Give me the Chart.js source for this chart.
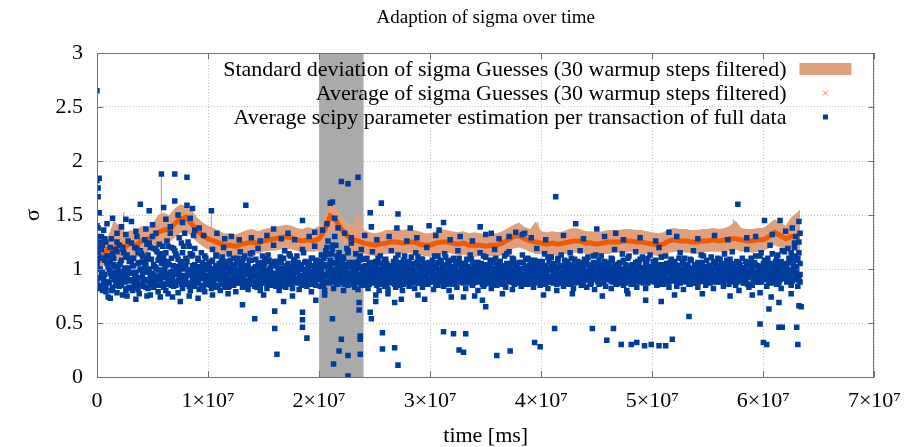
<!DOCTYPE html>
<html><head><meta charset="utf-8">
<script src="https://cdn.jsdelivr.net/npm/chart.js@4.4.0/dist/chart.umd.min.js"></script>
<style>html,body{margin:0;padding:0;background:#fff}</style>
</head><body>
<canvas id="c" width="912" height="447"></canvas>
<script>
// ---- data (times in units of 1e5 ms) ----
const TIME_UNIT_MS = 1e5;
const chartTitle = 'Adaption of sigma over time';
const xTitle = 'time [ms]';
const yTitle = 'σ';
const legendLabels = [
  'Standard deviation of sigma Guesses (30 warmup steps filtered)',
  'Average of sigma Guesses (30 warmup steps filtered)',
  'Average scipy parameter estimation per transaction of full data'
];
const xTickValues = [0, 1e7, 2e7, 3e7, 4e7, 5e7, 6e7, 7e7];
const yTickValues = [0, 0.5, 1, 1.5, 2, 2.5, 3];
const shadeRange = [2.0e7, 2.4e7];

const gridT = [0,5,10,15,20,25,30,35,40,45,50,55,60,65,70,75,80,85,90,95,100,105,110,115,120,125,130,135,140,145,150,155,160,165,170,175,180,185,190,195,200,205,210,215,220,225,230,235,240,245,250,255,260,265,270,275,280,285,290,295,300,305,310,315,320,325,330,335,340,345,350,355,360,365,370,375,380,385,390,395,400,405,410,415,420,425,430,435,440,445,450,455,460,465,470,475,480,485,490,495,500,505,510,515,520,525,530,535,540,545,550,555,560,565,570,575,580,585,590,595,600,605,610,615,620,625,630,633];
const avgSigma = [1.05,1.12,1.19,1.18,1.23,1.20,1.24,1.22,1.26,1.27,1.30,1.34,1.36,1.37,1.42,1.46,1.48,1.42,1.36,1.31,1.28,1.26,1.24,1.22,1.22,1.21,1.23,1.24,1.25,1.24,1.26,1.27,1.28,1.29,1.30,1.29,1.27,1.26,1.27,1.26,1.28,1.36,1.49,1.45,1.37,1.31,1.27,1.26,1.24,1.23,1.22,1.23,1.24,1.25,1.25,1.24,1.25,1.25,1.23,1.22,1.22,1.24,1.25,1.25,1.24,1.23,1.24,1.22,1.22,1.22,1.21,1.22,1.22,1.24,1.27,1.30,1.31,1.28,1.26,1.25,1.24,1.23,1.24,1.23,1.24,1.25,1.26,1.26,1.24,1.24,1.23,1.24,1.25,1.25,1.25,1.26,1.26,1.25,1.25,1.24,1.23,1.22,1.23,1.26,1.27,1.26,1.26,1.25,1.25,1.26,1.26,1.27,1.26,1.27,1.28,1.28,1.27,1.26,1.26,1.27,1.27,1.30,1.34,1.31,1.28,1.30,1.30,1.29];
const stdUpper = [1.12,1.30,1.30,1.45,1.40,1.33,1.36,1.35,1.40,1.38,1.42,1.50,1.52,1.50,1.56,1.60,1.58,1.55,1.48,1.43,1.40,1.38,1.35,1.33,1.33,1.32,1.34,1.36,1.37,1.35,1.37,1.38,1.39,1.40,1.41,1.40,1.38,1.37,1.39,1.37,1.40,1.48,1.62,1.58,1.50,1.43,1.40,1.52,1.36,1.34,1.33,1.34,1.36,1.36,1.37,1.36,1.37,1.36,1.35,1.33,1.33,1.35,1.37,1.36,1.35,1.34,1.35,1.33,1.34,1.33,1.32,1.33,1.33,1.35,1.38,1.41,1.43,1.39,1.37,1.44,1.35,1.34,1.35,1.34,1.35,1.37,1.38,1.37,1.35,1.35,1.34,1.35,1.36,1.36,1.36,1.37,1.37,1.36,1.36,1.35,1.34,1.33,1.34,1.37,1.38,1.37,1.37,1.36,1.36,1.37,1.37,1.38,1.37,1.38,1.40,1.45,1.38,1.37,1.37,1.38,1.38,1.42,1.46,1.43,1.40,1.48,1.52,1.55];
const stdLower = [1.00,1.02,1.08,1.05,1.10,1.08,1.12,1.10,1.14,1.15,1.18,1.20,1.22,1.25,1.29,1.33,1.35,1.30,1.25,1.21,1.18,1.16,1.14,1.13,1.12,1.12,1.13,1.14,1.15,1.14,1.16,1.17,1.17,1.18,1.19,1.18,1.17,1.16,1.16,1.16,1.17,1.24,1.36,1.33,1.26,1.20,1.17,1.16,1.14,1.13,1.12,1.13,1.14,1.15,1.14,1.14,1.15,1.14,1.13,1.12,1.11,1.13,1.14,1.15,1.14,1.13,1.13,1.12,1.11,1.12,1.11,1.12,1.11,1.13,1.16,1.19,1.20,1.18,1.16,1.14,1.14,1.13,1.13,1.13,1.14,1.14,1.15,1.16,1.14,1.13,1.13,1.14,1.14,1.15,1.15,1.15,1.16,1.15,1.14,1.14,1.13,1.12,1.12,1.15,1.16,1.16,1.15,1.15,1.14,1.15,1.16,1.16,1.16,1.16,1.17,1.18,1.16,1.16,1.15,1.16,1.17,1.19,1.22,1.20,1.17,1.18,1.17,1.16];
const spikeT    = [24, 58, 103, 238, 397, 573];
const spikeBase = [1.30,1.40,1.35,1.35,1.33,1.36];
const spikeTop  = [1.52,1.88,1.55,1.54,1.44,1.46];

// one time stamp per transaction step; three estimate layers share these times
const blueT = [
0,1,2,3,4,5,6,7,8,9,
10,11,12,13,14,15,16,17,18,19,
20,21,22,23,24,25,26,27,28,29,
30,31,32,33,34,35,36,37,38,39,
40,41,42,43,44,45,46,47,48,49,
50,51,52,53,54,55,56,57,58,59,
60,61,62,63,64,65,66,67,68,69,
70,71,72,73,74,75,76,77,78,79,
80,81,82,83,84,85,86,87,88,89,
90,91,92,93,94,95,96,97,98,99,
100,101,102,103,104,105,106,107,108,109,
110,111,112,113,114,115,116,117,118,119,
120,121,122,123,124,125,126,127,128,129,
130,131,132,133,134,135,136,137,138,139,
140,141,142,143,144,145,146,147,148,149,
150,151,152,153,154,155,156,157,158,159,
160,161,162,163,164,165,166,167,168,169,
170,171,172,173,174,175,176,177,178,179,
180,181,182,183,184,185,186,187,188,189,
190,191,192,193,194,195,196,197,198,199,
200,201,202,203,204,205,206,207,208,209,
210,211,212,213,214,215,216,217,218,219,
220,221,222,223,224,225,226,227,228,229,
230,231,232,233,234,235,236,237,238,239,
240,241,242,243,244,245,246,247,248,249,
250,251,252,253,254,255,256,257,258,259,
260,261,262,263,264,265,266,267,268,269,
270,271,272,273,274,275,276,277,278,279,
280,281,282,283,284,285,286,287,288,289,
290,291,292,293,294,295,296,297,298,299,
300,301,302,303,304,305,306,307,308,309,
310,311,312,313,314,315,316,317,318,319,
320,321,322,323,324,325,326,327,328,329,
330,331,332,333,334,335,336,337,338,339,
340,341,342,343,344,345,346,347,348,349,
350,351,352,353,354,355,356,357,358,359,
360,361,362,363,364,365,366,367,368,369,
370,371,372,373,374,375,376,377,378,379,
380,381,382,383,384,385,386,387,388,389,
390,391,392,393,394,395,396,397,398,399,
400,401,402,403,404,405,406,407,408,409,
410,411,412,413,414,415,416,417,418,419,
420,421,422,423,424,425,426,427,428,429,
430,431,432,433,434,435,436,437,438,439,
440,441,442,443,444,445,446,447,448,449,
450,451,452,453,454,455,456,457,458,459,
460,461,462,463,464,465,466,467,468,469,
470,471,472,473,474,475,476,477,478,479,
480,481,482,483,484,485,486,487,488,489,
490,491,492,493,494,495,496,497,498,499,
500,501,502,503,504,505,506,507,508,509,
510,511,512,513,514,515,516,517,518,519,
520,521,522,523,524,525,526,527,528,529,
530,531,532,533,534,535,536,537,538,539,
540,541,542,543,544,545,546,547,548,549,
550,551,552,553,554,555,556,557,558,559,
560,561,562,563,564,565,566,567,568,569,
570,571,572,573,574,575,576,577,578,579,
580,581,582,583,584,585,586,587,588,589,
590,591,592,593,594,595,596,597,598,599,
600,601,602,603,604,605,606,607,608,609,
610,611,612,613,614,615,616,617,618,619,
620,621,622,623,624,625,626,627,628,629,
630,631,632,633
];
const blueY = [
1.05,.85,1.2,.92,1.3,.8,1.1,.95,1.25,.88,
.74,1.12,.96,1.28,.83,1.04,.9,1.18,.78,1.0,
1.22,.87,1.08,.76,1.15,.93,1.32,.82,1.01,.89,
.97,1.24,.8,1.1,.91,1.35,.86,1.05,.77,1.17,
.92,1.07,.84,1.27,.99,.75,1.13,.88,1.2,.95,
1.3,.83,1.02,.9,1.16,.79,1.23,.94,1.09,.86,
1.11,.96,.8,1.26,.89,1.04,1.33,.85,.98,1.19,
.87,1.14,1.0,.78,1.29,.93,1.06,.82,1.21,.91,
1.03,.86,1.25,.95,.8,1.12,.9,1.31,.84,1.0,
.92,1.08,.81,.97,1.15,.85,1.02,.79,1.1,.94,
.88,1.05,.96,.82,1.18,.9,1.0,.84,1.12,.93,
.99,.8,1.07,.91,1.2,.86,.95,1.03,.83,1.14,
.9,1.01,.85,1.1,.94,.79,1.06,.97,.87,1.16,
1.04,.83,.96,1.12,.89,1.0,.81,1.08,.92,.86,
1.15,.93,.84,1.02,.88,1.19,.95,.8,1.06,.91,
.87,1.09,.97,.82,1.13,.9,1.01,.85,.94,1.22,
.96,.84,1.07,.92,.8,1.11,.88,1.0,.93,1.17,
.83,1.03,.95,1.14,.87,.98,.82,1.09,.9,1.05,
1.12,.89,.81,1.0,.94,1.18,.86,.97,1.07,.84,
.93,1.06,.88,.79,1.1,.96,1.21,.85,1.02,.91,
.98,.84,1.13,.9,1.04,.8,1.17,.94,1.26,.87,
1.08,.95,1.22,.82,1.3,.92,1.0,.86,1.15,.97,
.89,1.11,.8,1.03,.93,1.19,.85,1.06,.96,1.24,
.9,1.02,.83,1.14,.95,.81,1.08,.88,1.18,.97,
1.0,.86,.94,1.1,.82,1.05,.91,.98,1.16,.87,
.93,1.07,.85,.99,.8,1.12,.9,1.03,.95,.84,
1.09,.92,.81,1.01,.96,1.17,.87,.94,1.05,.83,
.9,1.13,.97,.85,1.04,.8,1.08,.93,1.0,.88,
1.06,.84,.95,1.11,.89,.98,.82,1.15,.92,1.02,
.87,.99,1.09,.83,.94,1.05,.9,1.2,.86,.97,
1.01,.88,.96,.81,1.12,.93,1.04,.85,.99,1.08,
.91,1.03,.84,1.14,.95,.89,1.07,.8,.98,1.0,
.86,1.1,.94,1.02,.83,1.17,.9,.96,1.05,.88,
1.04,.92,.82,1.09,.97,.87,1.13,.93,.85,1.01,
.95,1.06,.89,.8,1.0,1.15,.91,1.03,.84,.98,
1.11,.87,.96,1.04,.93,.82,1.08,.9,1.18,.94,
.85,.99,1.07,.91,1.02,.86,.97,1.12,.83,1.05,
.93,1.16,.88,1.0,.81,1.09,.95,.9,1.03,.87,
1.06,.94,.84,1.13,.92,1.01,.86,.98,1.1,.89,
.97,1.04,.91,.83,1.08,.95,1.19,.88,1.0,.85,
.9,1.02,.96,1.14,.86,.99,.82,1.07,.93,1.11,
1.0,.87,1.05,.92,.8,1.1,.95,1.03,.89,.97,
.84,1.08,.93,1.01,.96,.86,1.15,.9,1.04,.82,
1.09,.95,.88,1.02,.91,1.17,.85,.98,1.06,.93,
.96,.83,1.11,.9,1.0,.87,1.04,.94,.81,1.13,
.92,1.05,.86,.99,1.12,.89,.95,1.07,.84,1.01,
1.03,.9,.97,.82,1.09,.94,1.18,.87,1.0,.91,
.88,1.06,.93,1.14,.85,.98,1.02,.8,1.1,.95,
.99,.86,1.04,.91,.96,1.16,.83,1.07,.9,1.01,
.94,1.11,.87,1.0,.82,1.05,.92,.97,1.13,.89,
1.02,.9,.95,1.08,.85,.99,1.2,.88,1.04,.93,
.86,1.0,1.12,.91,.97,.83,1.06,.94,1.01,.89,
1.07,.93,.84,1.03,.96,1.15,.88,.99,.81,1.1,
.95,1.04,.9,.86,1.09,.92,1.0,1.17,.87,.98,
.91,.83,1.05,.97,1.13,.89,.94,1.02,.85,1.08,
1.0,.92,.87,1.11,.95,.82,1.06,.9,1.03,.96,
.88,1.09,.94,1.0,.84,1.14,.91,.97,1.05,.86,
1.02,.89,1.16,.93,.99,.85,1.07,.92,.8,1.04,
.96,1.1,.87,1.01,.9,1.18,.95,.83,1.06,.98,
.85,1.03,.93,1.12,.88,.97,1.0,.9,1.15,.94,
1.05,.92,.99,.84,1.1,.95,1.22,.87,1.01,.9,
.93,1.07,.86,1.13,.97,1.02,.82,1.17,.91,1.04,
1.0,.88,1.19,.94,1.06,.85,1.11,.96,1.24,.9,
1.08,.84,1.15,.95
];
const blueY2 = [
.9,1.15,.82,1.0,.95,1.22,.86,1.08,.79,1.12,
1.02,.88,1.2,.93,.81,1.1,.97,.85,1.25,.91,
.84,1.06,.94,1.18,.89,1.01,.8,1.13,.96,1.07,
1.1,.9,1.03,.83,1.2,.97,.88,1.15,.92,1.0,
.86,1.12,.98,.9,1.05,1.23,.82,1.0,.94,1.09,
.96,1.04,.87,1.18,.92,1.08,.85,1.14,.99,1.21,
.83,1.0,1.15,.93,1.07,.88,.97,1.2,.9,1.03,
1.17,.85,.96,1.09,.91,1.02,1.24,.87,1.0,.94,
.9,1.07,.98,.84,1.14,.95,1.03,.88,1.19,.92,
.95,.87,1.02,.91,.84,1.06,.93,.99,.86,1.04,
.92,1.0,.85,.97,1.08,.89,.94,1.03,.83,.96,
1.05,.9,.98,.86,.93,1.01,.88,1.07,.95,.84,
.97,.85,1.04,.92,.99,.87,1.09,.91,.96,1.02,
.89,1.06,.93,.84,1.0,.95,1.03,.88,.98,1.08,
.94,.86,1.01,.96,.83,1.05,.9,1.0,.87,.97,
1.02,.92,.88,1.07,.95,.85,.99,1.04,.91,.86,
.9,1.03,.95,.87,1.06,.93,.98,.84,1.01,.94,
.96,.88,1.05,.92,.99,.86,1.02,.94,1.08,.9,
.87,.98,.93,1.04,.85,1.0,.91,1.06,.95,.89,
1.01,.94,.86,.97,1.03,.9,.88,1.07,.93,.99,
.92,1.05,.97,.86,1.1,.94,1.02,.88,1.14,.96,
1.0,.89,1.18,.95,1.06,.87,1.12,.93,1.03,.9,
.95,1.08,.87,.99,1.04,.91,1.15,.96,.88,1.02,
.93,.86,1.0,.97,1.06,.89,.94,1.01,.85,1.09,
.96,.9,1.03,.87,.98,.93,1.05,.88,1.0,.94,
.89,1.01,.95,.92,1.06,.86,.97,.9,1.04,.98,
.93,.86,1.0,.95,.89,1.03,.97,1.07,.91,.96,
1.02,.94,.88,.99,.92,1.05,.86,.95,1.01,.9,
.95,1.0,.91,.87,1.04,.93,.98,.89,1.06,.94,
.9,.96,1.02,.94,.86,.99,1.05,.92,.97,.88,
.97,1.03,.89,.95,1.0,.86,.93,1.06,.91,.99,
.88,.95,1.01,.92,.97,1.04,.87,.94,1.02,.9,
1.0,.92,.86,.98,1.05,.91,.96,.89,1.03,.95,
.93,.99,1.04,.88,.94,1.0,.9,.97,1.06,.87,
.91,.96,.99,1.03,.88,.93,1.05,.86,.95,1.01,
.97,.9,1.02,.94,.87,1.0,.95,1.06,.89,.92,
.94,1.04,.88,.96,.91,.99,1.02,.86,.97,.93,
1.01,.89,.95,1.05,.92,.87,.98,1.03,.9,.96,
.88,1.0,.94,.9,1.06,.95,.91,1.02,.86,.99,
.93,.87,1.01,.96,.9,1.04,.92,.97,1.07,.94,
.99,.91,.86,1.03,.95,.9,1.0,.93,.88,1.05,
.92,.97,1.04,.88,.94,1.01,.87,.96,1.02,.9,
1.03,.9,.96,.93,1.07,.89,.98,.86,.95,1.0,
.87,.94,1.02,.97,.89,.93,1.05,.91,1.0,.95,
.91,1.04,.92,.98,.86,1.01,.94,1.06,.9,.97,
1.0,.88,.95,1.03,.91,.96,.87,.99,1.04,.93,
.95,.92,1.06,.89,.97,1.01,.9,.94,.86,1.02,
.98,.87,.93,1.0,.96,.9,1.04,.92,.97,.88,
.92,1.03,.96,.86,1.01,.94,.99,.89,1.05,.95,
.89,.95,1.0,.93,1.06,.9,.87,1.02,.96,.91,
.97,1.05,.88,.94,.99,.92,1.03,.95,.86,1.0,
.93,.9,.97,1.04,.88,1.01,.95,.91,.98,1.06,
1.0,.96,.89,.93,1.02,.87,.97,1.05,.92,.94,
.9,.98,1.03,.95,.86,.99,.93,.91,1.04,.96,
.95,1.01,.88,.92,.97,1.06,.9,.99,.94,.87,
.92,.97,1.03,.89,1.0,.94,.91,1.05,.88,.98,
1.01,.9,.95,.98,.87,.93,1.04,.96,.91,1.0,
.94,1.05,.89,.96,1.02,.91,.97,.88,.99,.93,
.9,.96,1.01,.87,.94,1.03,.92,.98,1.06,.95,
.97,.89,.93,1.04,.96,.9,1.0,.95,.88,1.02,
.93,1.0,.96,.91,1.05,.88,.99,.94,1.03,.97,
1.02,.94,.9,.98,.87,1.06,.95,.92,1.0,.96,
.95,1.03,.91,.99,.94,1.08,.89,1.0,.96,1.12,
.97,1.1,.9,1.05
];
const blueY3 = [
1.0,.92,1.1,.84,1.18,.97,.9,1.28,.83,1.05,
.87,.99,1.07,.8,1.14,.93,1.02,.89,1.16,.96,
1.04,.91,.85,1.2,.98,.88,1.11,.94,1.26,.83,
.9,1.08,.96,1.03,.86,.92,1.19,.81,1.06,.99,
1.14,.95,.89,1.02,.83,1.1,.97,1.24,.91,.86,
.88,1.19,.94,1.01,.85,.99,1.12,.9,1.05,.96,
1.06,.92,1.03,.86,1.21,.95,.88,1.1,.97,.84,
.95,1.02,1.12,.89,.98,1.07,.86,1.15,.92,1.33,
1.1,.94,.87,1.21,.99,.85,1.13,.96,1.04,.9,
.88,1.1,.95,1.01,.92,.98,.84,1.12,.9,1.0,
1.03,.93,.89,1.07,.86,1.0,.95,1.13,.91,.85,
.94,1.02,.9,1.11,.96,.83,1.05,.92,1.0,.88,
1.08,.9,.97,.85,1.02,.94,.87,1.1,.93,.99,
.92,.98,1.1,.88,.95,1.03,.86,.97,1.14,.9,
1.0,.93,.87,1.09,.96,.91,1.04,.85,.98,1.12,
.9,1.05,.94,.99,.86,1.08,.92,.96,1.03,.88,
1.07,.95,.89,1.01,.97,.84,1.06,.93,1.1,.91,
.92,1.0,.86,.98,1.12,.9,.95,1.04,.88,1.01,
.97,1.06,.91,.88,1.03,.94,1.15,.9,.99,.86,
1.05,.89,.98,1.1,.92,.86,1.0,.94,1.08,.96,
.9,1.0,1.07,.95,.85,1.12,.93,1.2,.97,1.04,
.94,1.14,.88,1.05,.99,1.22,.9,1.08,.96,1.0,
1.03,.92,1.1,.86,1.0,.95,1.17,.89,1.02,.93,
.97,1.06,.91,1.0,.88,1.04,.95,1.12,.9,.85,
1.02,.94,1.09,.9,.97,.86,1.01,.93,1.06,.98,
.96,.88,1.03,1.1,.91,.99,.94,.87,1.0,1.08,
.9,1.05,.97,.88,1.03,.92,1.0,.95,.86,1.1,
.98,.91,1.06,.94,.87,1.01,.96,1.12,.9,1.03,
.93,1.07,.89,.97,1.0,.9,1.05,.95,.87,1.11,
1.04,.92,.97,1.09,.88,.94,1.01,.86,.99,1.06,
.91,.98,1.08,.9,.95,1.02,.87,1.12,.94,.97,
1.06,.9,.96,.99,1.11,.86,.93,1.03,.91,1.08,
.95,1.01,.89,1.07,.93,.97,1.1,.88,.99,.92,
.87,1.05,.96,.91,1.02,.94,.98,1.09,.9,1.0,
1.03,.88,.94,1.06,.97,.9,1.0,.93,1.12,.86,
.92,1.04,.98,.89,1.08,.95,.86,1.01,.96,1.1,
1.0,.9,.95,1.07,.87,1.03,.93,.99,.91,1.14,
.96,1.02,.89,.94,1.1,.98,.86,1.05,.93,1.0,
.91,.97,1.06,.88,1.0,.93,1.09,.95,.9,1.03,
1.08,.92,.96,1.01,.87,.99,.94,1.05,.9,.97,
.95,1.07,.89,.93,1.02,.96,1.11,.88,.99,.92,
1.04,.9,.97,1.0,.86,1.08,.93,.95,1.13,.89,
.93,.99,1.05,.87,.96,1.02,.9,1.1,.94,.98,
1.0,.91,.95,1.07,.88,.97,1.03,.92,.86,1.09,
.9,1.06,.98,.94,1.01,.89,.96,1.12,.92,1.0,
.97,.93,1.08,.87,.95,1.03,1.0,.9,.98,1.05,
.91,1.01,.94,1.1,.88,.99,.93,1.04,.96,.87,
1.05,.96,.9,.98,1.08,.92,.87,1.01,.94,1.12,
.94,.89,1.02,.97,.91,1.06,.95,1.0,.88,1.09,
1.01,.93,.97,.88,1.04,.96,1.1,.9,.99,.94,
.89,1.07,.94,1.0,.92,1.03,.87,.98,1.11,.95,
1.0,.95,.9,1.05,.97,.88,1.02,1.09,.93,.99,
.92,1.04,.98,.89,1.1,.95,.93,.9,1.06,1.0,
1.03,.88,.96,1.01,.94,1.08,.91,.99,.95,.87,
.98,1.06,.93,.9,1.02,.95,1.12,.89,1.0,.94,
.9,1.03,.99,.96,.88,1.07,.94,1.01,.92,1.1,
.96,.93,1.05,.89,1.0,.97,.9,1.08,.95,1.02,
1.09,.91,.97,1.03,.88,.95,1.0,.93,1.06,.9,
.93,1.01,.95,.9,1.07,.98,.86,1.04,.96,1.1,
1.0,.92,1.06,.97,.91,1.03,.88,1.12,.94,.99,
.96,1.08,.9,1.02,.95,.99,1.05,.92,1.14,.88,
1.04,.97,1.1,.93,1.0,.9,1.07,.95,1.02,1.16,
.92,1.05,.98,1.1,.9,1.15,.96,1.03,1.2,.94,
1.02,.93,1.25,.88
];
const outT = [
0,2,1,1,2,0,0,1,0,3,1,6,58,70,81,39,47,70,60,81,86,103,134,159,185,220,226,235,210,212,256,246,247,14,26,
413,577,271,601,615,632,299,312,431,345,450,515,308,282,270,350,355,377,383,385,467,
9,18,22,31,36,44,50,53,62,66,73,77,84,88,92,96,108,115,121,128,139,147,153,166,172,178,191,196,203,207,214,217,223,229,241,252,263,279,288,305,318,327,338,362,371,391,404,420,438,457,474,489,503,522,541,556,568,585,593,608,620,626,629,633,
12,27,35,48,57,64,83,104,118,150,176,205,262,289,340,365,402,428,455,478,520,545,570,590,625,
68,75,91,131,142,160,160,162,168,185,185,185,189,197,212,220,218,226,213,226,236,236,237,237,237,246,247,251,251,257,257,268,271,268,274,295,312,321,332,326,330,319,330,347,350,
360,372,394,399,412,446,465,459,472,481,486,493,499,506,512,518,533,494,508,597,600,603,605,614,614,617,630,632,631,607,597,634
];
const outY = [
1.82,1.84,1.75,1.67,1.52,2.65,1.40,1.38,1.30,1.25,1.20,1.36,1.88,1.88,1.85,1.60,1.54,1.63,1.57,1.59,1.56,1.54,1.59,1.37,1.45,1.81,1.79,1.85,1.61,1.62,1.61,1.52,1.39,1.47,1.46,
1.67,1.60,1.51,1.45,1.45,1.44,1.40,1.43,1.42,1.39,1.37,1.34,1.36,1.38,1.38,1.32,1.33,1.34,1.32,1.33,1.33,
1.42,1.33,1.39,1.44,1.3,1.37,1.41,1.33,1.46,1.39,1.5,1.43,1.47,1.36,1.38,1.31,1.33,1.28,1.3,1.27,1.29,1.26,1.31,1.28,1.33,1.27,1.3,1.34,1.36,1.42,1.47,1.38,1.33,1.29,1.31,1.27,1.3,1.26,1.29,1.31,1.27,1.3,1.26,1.28,1.3,1.29,1.27,1.31,1.28,1.3,1.27,1.29,1.26,1.3,1.28,1.31,1.27,1.29,1.3,1.32,1.35,1.38,1.3,1.33,
.73,.75,.72,.76,.74,.77,.75,.76,.77,.76,.75,.76,.77,.76,.75,.77,.76,.77,.75,.77,.76,.77,.75,.76,.77,
.74,.70,.73,.67,.54,.61,.45,.21,.70,.60,.53,.46,.36,.71,.54,.35,.24,.20,.12,.01,.69,.62,.38,.35,.21,.60,.54,.76,.70,.41,.26,.27,.11,.69,.72,.72,.42,.40,.40,.25,.23,.74,.74,.71,.65,
.20,.24,.32,.28,.45,.45,.45,.34,.30,.30,.32,.29,.30,.29,.29,.35,.56,.71,.70,.49,.32,.30,.63,.69,.46,.46,.46,.66,.30,.74,.78,.65
];

// ---- build datasets ----
function pts(ts, ys) {
  const n = Math.min(ts.length, ys.length), out = [];
  for (let i = 0; i < n; i++) out.push({x: ts[i] * TIME_UNIT_MS, y: ys[i]});
  return out;
}
const spikeData = [];
spikeT.forEach((t, i) => {
  spikeData.push({x: t * TIME_UNIT_MS, y: spikeBase[i]});
  spikeData.push({x: t * TIME_UNIT_MS, y: spikeTop[i]});
  spikeData.push({x: t * TIME_UNIT_MS, y: null});
});
const blueData = pts(blueT, blueY).concat(pts(blueT, blueY2), pts(blueT, blueY3), pts(outT, outY));

const FONT = '"Liberation Serif", "Times New Roman", serif';
const BLUE = '#003c9c', ORANGE = '#f05a00', SALMON = '#e1a07d', GRAY = '#aaaaaa', FRAME = '#707070';

const decor = {
  id: 'decor',
  beforeDatasetsDraw(chart) {
    const {ctx, chartArea: a, scales: {x}} = chart;
    const x0 = x.getPixelForValue(shadeRange[0]), x1 = x.getPixelForValue(shadeRange[1]);
    ctx.save();
    ctx.fillStyle = GRAY;
    ctx.fillRect(x0, a.top, x1 - x0, a.bottom - a.top);
    ctx.restore();
  },
  afterDatasetsDraw(chart) {
    const {ctx, chartArea: a, scales: {x, y}} = chart;
    ctx.save();
    // frame
    ctx.strokeStyle = FRAME; ctx.lineWidth = 1;
    ctx.strokeRect(Math.round(a.left) + 0.5, Math.round(a.top) + 0.5, Math.round(a.right - a.left) - 1, Math.round(a.bottom - a.top));
    // inward tick marks
    ctx.beginPath();
    xTickValues.forEach(v => {
      const p = Math.round(x.getPixelForValue(v)) + 0.5;
      ctx.moveTo(p, a.bottom); ctx.lineTo(p, a.bottom - 6);
      ctx.moveTo(p, a.top); ctx.lineTo(p, a.top + 6);
    });
    yTickValues.forEach(v => {
      const p = Math.round(y.getPixelForValue(v)) + 0.5;
      ctx.moveTo(a.left, p); ctx.lineTo(a.left + 6, p);
      ctx.moveTo(a.right, p); ctx.lineTo(a.right - 6, p);
    });
    ctx.stroke();
    // title
    ctx.fillStyle = '#000';
    ctx.font = '19px ' + FONT; ctx.textAlign = 'center'; ctx.textBaseline = 'middle';
    ctx.fillText(chartTitle, (a.left + a.right) / 2, 18);
    // legend
    const tx = a.right - 88, sx = a.right - 49;
    const rows = [a.top + 16, a.top + 40, a.top + 64];
    ctx.font = '22px ' + FONT;
    ctx.textAlign = 'right'; ctx.textBaseline = 'middle';
    legendLabels.forEach((t, i) => ctx.fillText(t, tx, rows[i] + 1));
    ctx.fillStyle = SALMON;
    ctx.fillRect(sx - 26, rows[0] - 6, 52, 12);
    ctx.strokeStyle = '#f57a40'; ctx.lineWidth = 1;
    ctx.beginPath();
    ctx.moveTo(sx - 2.5, rows[1] - 2.5); ctx.lineTo(sx + 2.5, rows[1] + 2.5);
    ctx.moveTo(sx - 2.5, rows[1] + 2.5); ctx.lineTo(sx + 2.5, rows[1] - 2.5);
    ctx.stroke();
    ctx.fillStyle = BLUE;
    ctx.fillRect(sx - 2.5, rows[2] - 2.5, 5, 5);
    ctx.restore();
  }
};

new Chart(document.getElementById('c'), {
  type: 'line',
  data: {
    datasets: [
      {label: legendLabels[2], data: blueData, showLine: false,
       pointStyle: 'rect', pointRadius: 3.9, pointBackgroundColor: BLUE,
       pointBorderWidth: 0, borderWidth: 0},
      {label: legendLabels[1], data: pts(gridT, avgSigma), borderColor: ORANGE, borderWidth: 5, pointRadius: 0, tension: 0, fill: false},
      {label: 'spikes', data: spikeData, borderColor: SALMON, borderWidth: 1.2, pointRadius: 0, spanGaps: false, fill: false},
      {label: legendLabels[0], data: pts(gridT, stdUpper), borderWidth: 0, borderColor: SALMON, pointRadius: 0, backgroundColor: SALMON, fill: '+1'},
      {label: 'lower', data: pts(gridT, stdLower), borderWidth: 0, borderColor: SALMON, pointRadius: 0, fill: false}
    ]
  },
  options: {
    responsive: false, animation: false, devicePixelRatio: 1,
    events: [],
    layout: {padding: {left: 0, right: 34, top: 53, bottom: 0}},
    plugins: {legend: {display: false}, tooltip: {enabled: false}, title: {display: false}},
    scales: {
      x: {
        type: 'linear', min: 0, max: 7e7,
        afterFit(s) { s.height = 70; },
        afterBuildTicks(s) { s.ticks = xTickValues.map(v => ({value: v})); },
        ticks: {autoSkip: false, maxRotation: 0, padding: 11, color: '#000', font: {family: FONT, size: 22},
          callback: v => v === 0 ? '0' : (v / 1e7) + '×10⁷'},
        grid: {color: '#c4c4c4', drawTicks: false, lineWidth: 1},
        border: {display: false, dash: [1, 2]},
        title: {display: true, text: xTitle, color: '#000', font: {family: FONT, size: 22, lineHeight: 1}, padding: {top: 0, bottom: 0}}
      },
      y: {
        min: 0, max: 3,
        afterFit(s) { s.width = 97; },
        afterBuildTicks(s) { s.ticks = yTickValues.map(v => ({value: v})); },
        ticks: {padding: 14, color: '#000', font: {family: FONT, size: 22}, callback: v => String(v)},
        grid: {color: '#c4c4c4', drawTicks: false, lineWidth: 1},
        border: {display: false, dash: [1, 2]},
        title: {display: true, text: yTitle, color: '#000', font: {family: FONT, size: 22}, padding: {top: 20, bottom: 0}}
      }
    }
  },
  plugins: [decor]
});
</script>
</body></html>
